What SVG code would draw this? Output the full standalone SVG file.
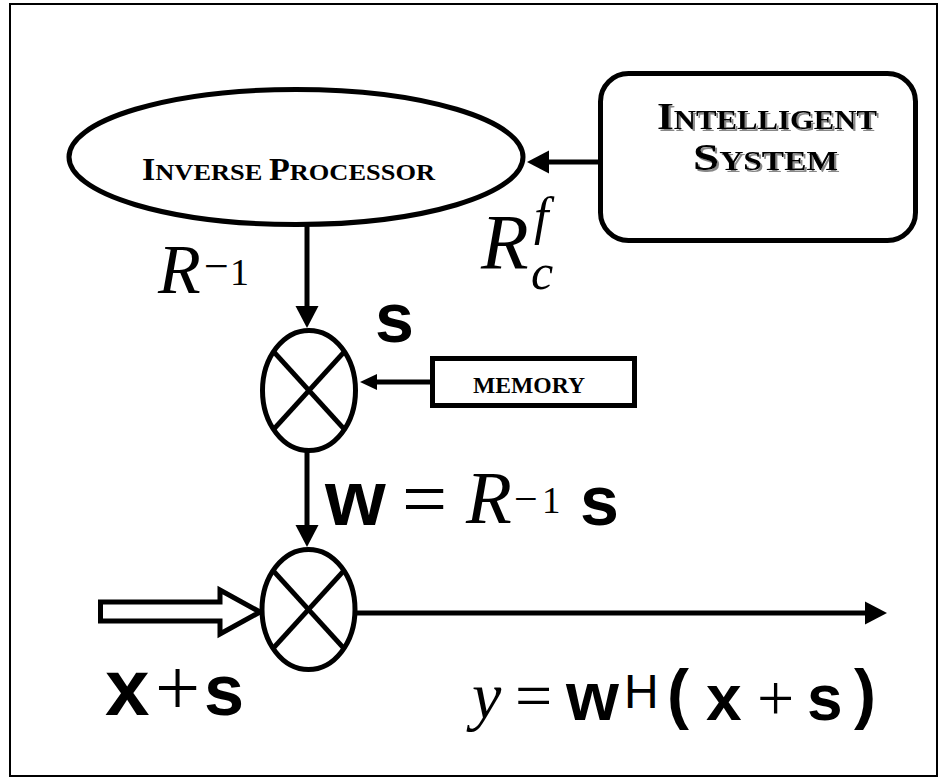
<svg xmlns="http://www.w3.org/2000/svg" width="942" height="778" viewBox="0 0 942 778">
<style>
.sc{font-family:"Liberation Serif","Times New Roman",serif;font-weight:bold;fill:#000}
.it{font-family:"Liberation Serif","Times New Roman",serif;font-style:italic;fill:#000}
.rm{font-family:"Liberation Serif","Times New Roman",serif;fill:#000}
.bs{font-family:"Liberation Sans",Arial,sans-serif;font-weight:bold;fill:#000}
.ss{font-family:"Liberation Sans",Arial,sans-serif;fill:#000}
.shape{fill:#fff;stroke:#000;stroke-width:5}
.ln{fill:none;stroke:#000;stroke-width:5}
</style>
<defs>
<marker id="ah" markerUnits="userSpaceOnUse" markerWidth="24" markerHeight="24" refX="1" refY="12" orient="auto">
<path d="M0,0.5 L22,12 L0,23.5 z" fill="#000"/>
</marker>
<marker id="ahs" markerUnits="userSpaceOnUse" markerWidth="18" markerHeight="18" refX="1" refY="9" orient="auto">
<path d="M0,1 L17,9 L0,17 z" fill="#000"/>
</marker>
<filter id="shadow" x="-10%" y="-20%" width="120%" height="150%">
<feDropShadow dx="2" dy="2" stdDeviation="0.6" flood-color="#888" flood-opacity="1"/>
</filter>
</defs>
<rect x="0" y="0" width="942" height="778" fill="#fff"/>
<rect x="10" y="4" width="927" height="772" fill="none" stroke="#000" stroke-width="2"/>

<g id="connectors">
<line class="ln" x1="598" y1="162" x2="548" y2="162" marker-end="url(#ah)"/>
<line class="ln" x1="307" y1="225" x2="307" y2="307" marker-end="url(#ah)"/>
<line class="ln" x1="430" y1="382" x2="376" y2="382" stroke-width="4" marker-end="url(#ahs)"/>
<line class="ln" x1="307" y1="452" x2="307" y2="526" marker-end="url(#ah)"/>
<line class="ln" x1="356" y1="613" x2="866" y2="613" stroke-width="6" marker-end="url(#ah)"/>
<polygon class="shape" points="100.5,602 220,602 220,590 260,612 220,634 220,621 100.5,621"/>
</g>

<g id="inverse-processor">
<ellipse class="shape" cx="296" cy="157" rx="227" ry="67.5"/>
<text class="sc" x="142" y="180" textLength="293" lengthAdjust="spacingAndGlyphs"><tspan font-size="31">I</tspan><tspan font-size="24">NVERSE </tspan><tspan font-size="31">P</tspan><tspan font-size="24">ROCESSOR</tspan></text>
</g>

<g id="intelligent-system">
<rect class="shape" x="600.5" y="73.5" width="315" height="167" rx="28" ry="28"/>
<g filter="url(#shadow)">
<text class="sc" x="657" y="129" textLength="220" lengthAdjust="spacingAndGlyphs"><tspan font-size="38">I</tspan><tspan font-size="27">NTELLIGENT</tspan></text>
<text class="sc" x="693" y="170" textLength="145" lengthAdjust="spacingAndGlyphs"><tspan font-size="38">S</tspan><tspan font-size="27">YSTEM</tspan></text>
</g>
</g>

<g id="memory">
<rect class="shape" x="432.5" y="358.5" width="202" height="47"/>
<text class="sc" x="473" y="393" font-size="23" textLength="112" lengthAdjust="spacingAndGlyphs">MEMORY</text>
</g>

<g id="multiplier-1">
<ellipse class="shape" cx="309" cy="390.5" rx="46.5" ry="60"/>
<line class="ln" x1="273.6" y1="351.6" x2="344.4" y2="429.4"/>
<line class="ln" x1="344.4" y1="351.6" x2="273.6" y2="429.4"/>
</g>

<g id="multiplier-2">
<ellipse class="shape" cx="308.5" cy="609.5" rx="46.5" ry="60"/>
<line class="ln" x1="273.1" y1="570.6" x2="343.9" y2="648.4"/>
<line class="ln" x1="343.9" y1="570.6" x2="273.1" y2="648.4"/>
</g>

<g id="labels">
<text class="it" x="158" y="293" font-size="70">R</text>
<text class="rm" x="204" y="281" font-size="44">−</text>
<text class="rm" x="230" y="285" font-size="38">1</text>

<text class="it" x="481" y="268" font-size="78">R</text>
<text class="it" x="534" y="234" font-size="52">f</text>
<text class="it" x="531" y="289" font-size="50">c</text>

<text class="bs" x="375" y="342" font-size="70">s</text>

<text class="bs" x="325" y="525" font-size="78">w</text>
<text class="rm" x="402" y="526" font-size="80">=</text>
<text class="it" x="466" y="523" font-size="75">R</text>
<text class="rm" x="514" y="513" font-size="42">−</text>
<text class="rm" x="542" y="513" font-size="37">1</text>
<text class="bs" x="580" y="525" font-size="70">s</text>

<text class="bs" x="105" y="715" font-size="80">x</text>
<text class="rm" x="155" y="715" font-size="80">+</text>
<text class="bs" x="204" y="715" font-size="72">s</text>

<text class="it" x="472" y="718" font-size="66">y</text>
<text class="rm" x="515" y="718" font-size="66">=</text>
<text class="bs" x="566" y="720" font-size="68">w</text>
<text class="ss" x="624" y="708" font-size="48">H</text>
<text class="bs" x="667" y="716" font-size="66">(</text>
<text class="bs" x="706" y="720" font-size="64">x</text>
<text class="rm" x="757" y="720" font-size="66">+</text>
<text class="bs" x="807" y="720" font-size="64">s</text>
<text class="bs" x="854" y="716" font-size="66">)</text>
</g>
</svg>
